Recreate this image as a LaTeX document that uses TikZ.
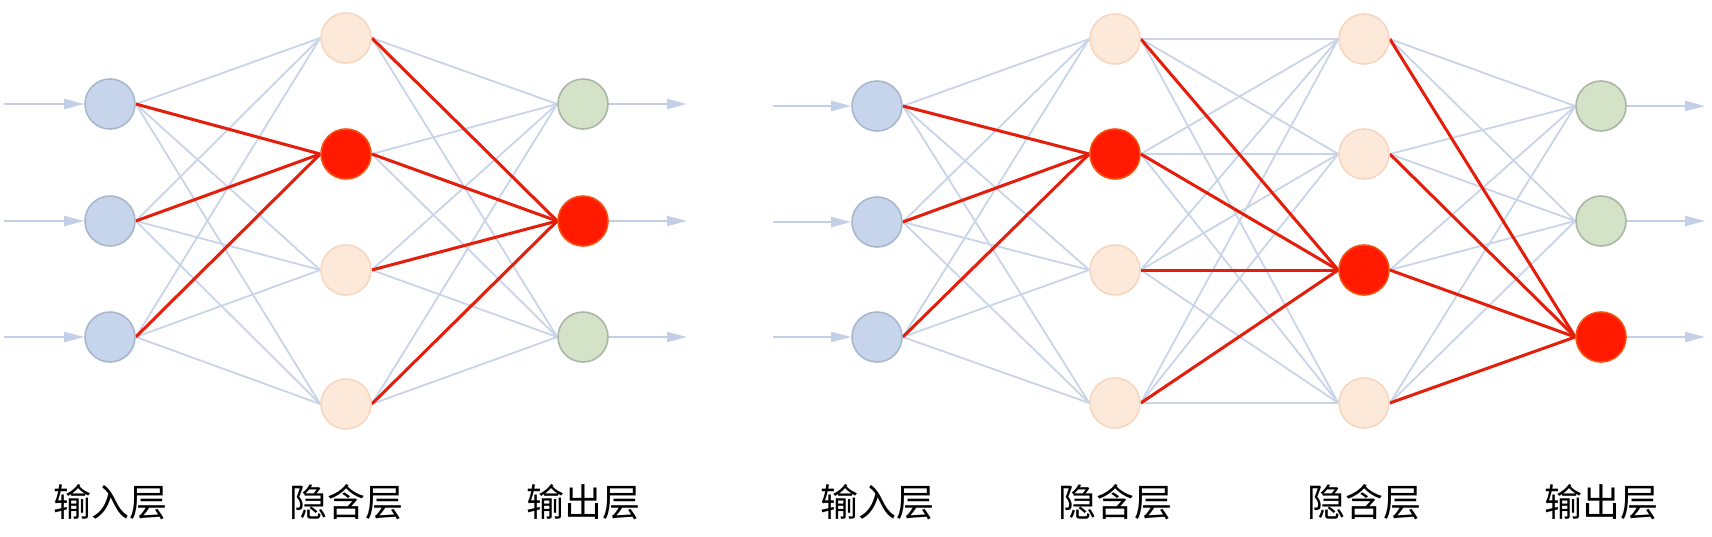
\documentclass[tikz,border=0pt]{standalone}
\usepackage{fontspec}
\newfontfamily\cjk{Noto Sans CJK SC}
\usetikzlibrary{arrows.meta}
\definecolor{inblue}{HTML}{C6D5EC}
\definecolor{inblueb}{HTML}{A9B7CC}
\definecolor{hidfill}{HTML}{FDE9DA}
\definecolor{hiddraw}{HTML}{F6D6BE}
\definecolor{outfill}{HTML}{D4E3C7}
\definecolor{outdraw}{HTML}{AAB7A6}
\definecolor{hotred}{HTML}{FF1A00}
\definecolor{hotredb}{HTML}{F5520F}
\definecolor{wirec}{HTML}{C9D4E9}
\definecolor{redwire}{HTML}{E51E0C}
\definecolor{arrc}{HTML}{C3CFE6}
\pgfdeclarelayer{bg}
\pgfsetlayers{bg,main}
\begin{document}
\begin{tikzpicture}[x=1pt,y=-1pt,
  neuron/.style={circle, minimum size=50pt, inner sep=0pt, line width=1.6pt},
  inN/.style={neuron, fill=inblue, draw=inblueb},
  hidN/.style={neuron, fill=hidfill, draw=hiddraw},
  outN/.style={neuron, fill=outfill, draw=outdraw},
  redN/.style={neuron, fill=hotred, draw=hotredb},
  wire/.style={draw=wirec, line width=1.8pt},
  hotwire/.style={draw=redwire, line width=3pt},
  arr/.style={draw=arrc, line width=2pt, -{Triangle[length=20pt,width=10pt]}},
  lbl/.style={font=\cjk\fontsize{38}{40}\selectfont, anchor=base, inner sep=0pt}
]
\useasboundingbox (0,0) rectangle (1712,536);

% ---------- left network ----------
\foreach \i/\y/\s in {1/104/inN,2/221/inN,3/337/inN}
  \node[\s] (La\i) at (110,\y) {};
\foreach \i/\y/\s in {1/38/hidN,2/154/redN,3/270/hidN,4/404/hidN}
  \node[\s] (Lb\i) at (346,\y) {};
\foreach \i/\y/\s in {1/104/outN,2/221/redN,3/337/outN}
  \node[\s] (Lc\i) at (583,\y) {};

% ---------- right network ----------
\foreach \i/\y/\s in {1/106/inN,2/222/inN,3/337/inN}
  \node[\s] (Ra\i) at (877,\y) {};
\foreach \i/\y/\s in {1/39/hidN,2/154/redN,3/270/hidN,4/403/hidN}
  \node[\s] (Rb\i) at (1115,\y) {};
\foreach \i/\y/\s in {1/39/hidN,2/154/hidN,3/270/redN,4/403/hidN}
  \node[\s] (Rc\i) at (1364,\y) {};
\foreach \i/\y/\s in {1/106/outN,2/221/outN,3/337/redN}
  \node[\s] (Rd\i) at (1601,\y) {};

\begin{pgfonlayer}{bg}
  % light connections
  \foreach \i in {1,2,3} \foreach \j in {1,2,3,4} {
    \draw[wire] (La\i.east) -- (Lb\j.west);
    \draw[wire] (Lb\j.east) -- (Lc\i.west);
    \draw[wire] (Ra\i.east) -- (Rb\j.west);
    \draw[wire] (Rc\j.east) -- (Rd\i.west);
  }
  \foreach \i in {1,2,3,4} \foreach \j in {1,2,3,4}
    \draw[wire] (Rb\i.east) -- (Rc\j.west);
  % highlighted connections
  \foreach \i in {1,2,3} {
    \draw[hotwire] (La\i.east) -- (Lb2.west);
    \draw[hotwire] (Ra\i.east) -- (Rb2.west);
  }
  \foreach \j in {1,2,3,4} {
    \draw[hotwire] (Lb\j.east) -- (Lc2.west);
    \draw[hotwire] (Rb\j.east) -- (Rc3.west);
    \draw[hotwire] (Rc\j.east) -- (Rd3.west);
  }
\end{pgfonlayer}

% ---------- input / output arrows ----------
\foreach \i/\y in {1/104,2/221,3/337} {
  \coordinate (Lin\i) at (4,\y);
  \coordinate (Lout\i) at (687,\y);
  \draw[arr] (Lin\i) -- (La\i.west);
  \draw[arr] (Lc\i.east) -- (Lout\i);
}
\foreach \i/\y/\z in {1/106/106,2/222/221,3/337/337} {
  \coordinate (Rin\i) at (773,\y);
  \coordinate (Rout\i) at (1705,\z);
  \draw[arr] (Rin\i) -- (Ra\i.west);
  \draw[arr] (Rd\i.east) -- (Rout\i);
}

% ---------- labels ----------
\node[lbl] (t1) at (110,516) {输入层};
\node[lbl] (t2) at (346,516) {隐含层};
\node[lbl] (t3) at (583,516) {输出层};
\node[lbl] (t4) at (877,516) {输入层};
\node[lbl] (t5) at (1115,516) {隐含层};
\node[lbl] (t6) at (1364,516) {隐含层};
\node[lbl] (t7) at (1601,516) {输出层};
\end{tikzpicture}
\end{document}
